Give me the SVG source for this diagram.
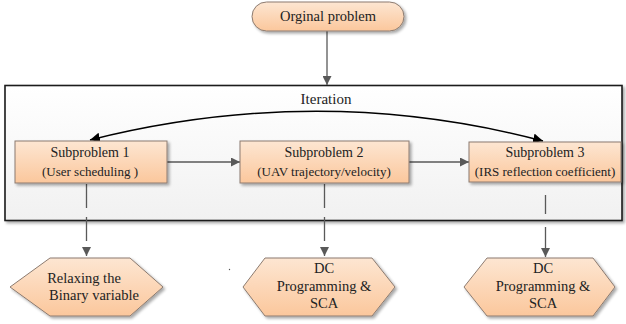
<svg xmlns="http://www.w3.org/2000/svg" width="626" height="324" viewBox="0 0 626 324" font-family="'Liberation Serif', 'Times New Roman', serif">
<defs>
<linearGradient id="peach" x1="0" y1="0" x2="0" y2="1">
<stop offset="0" stop-color="#fde6d2"/>
<stop offset="1" stop-color="#fbc79c"/>
</linearGradient>
<linearGradient id="iter" x1="0" y1="0" x2="0" y2="1">
<stop offset="0" stop-color="#ffffff"/>
<stop offset="1" stop-color="#f1f1f1"/>
</linearGradient>
<filter id="sh" x="-10%" y="-20%" width="125%" height="150%">
<feGaussianBlur in="SourceAlpha" stdDeviation="1.5"/>
<feOffset dx="2" dy="2" result="b"/>
<feComponentTransfer><feFuncA type="linear" slope="0.35"/></feComponentTransfer>
<feMerge><feMergeNode/><feMergeNode in="SourceGraphic"/></feMerge>
</filter>
<marker id="ag" viewBox="0 0 10 10" refX="10" refY="5" markerWidth="9" markerHeight="9" markerUnits="userSpaceOnUse" orient="auto">
<path d="M0,0 L10,5 L0,10 z" fill="#595959"/>
</marker>
<marker id="ak" viewBox="0 0 10 10" refX="10" refY="5" markerWidth="10" markerHeight="10" markerUnits="userSpaceOnUse" orient="auto-start-reverse">
<path d="M0,0 L10,5 L0,10 z" fill="#000"/>
</marker>
</defs>
<style>
.node{fill:url(#peach);stroke:#8c7b70;stroke-width:1;filter:url(#sh)}
text{font-family:'Liberation Serif','Times New Roman',serif;fill:#222;text-anchor:middle}
.t{font-size:14.5px}
.s{font-size:13px}
.c{stroke:#595959;stroke-width:1.3;fill:none}
.d{stroke:#595959;stroke-width:1.3;fill:none;stroke-dasharray:24 9}
</style>

<g id="iteration">
<rect x="5" y="85.5" width="617" height="135" fill="url(#iter)" stroke="#1a1a1a" stroke-width="1.6" filter="url(#sh)"/>
<text x="326" y="104" style="font-size:15px">Iteration</text>
</g>

<g id="connectors">
<line class="c" x1="327" y1="31" x2="327" y2="85" marker-end="url(#ag)"/>
<line class="c" x1="167" y1="162" x2="240" y2="162" marker-end="url(#ag)"/>
<line class="c" x1="409" y1="162" x2="469" y2="162" marker-end="url(#ag)"/>
<path d="M 90 140 Q 320 82 543 141" stroke="#000" stroke-width="1.5" fill="none" marker-start="url(#ak)" marker-end="url(#ak)"/>
<line class="d" x1="86.5" y1="184" x2="86.5" y2="256" marker-end="url(#ag)"/>
<line class="d" x1="324.5" y1="184" x2="324.5" y2="256" marker-end="url(#ag)"/>
<line class="d" x1="545.5" y1="195" x2="545.5" y2="257" marker-end="url(#ag)" style="stroke-dasharray:19 13 40"/>
</g>

<g id="original">
<rect class="node" x="252" y="2" width="152" height="29" rx="14.5"/>
<text class="t" x="328" y="21">Orginal problem</text>
</g>

<g id="sub1">
<rect class="node" x="15" y="141" width="152" height="42"/>
<text x="90" y="157" style="font-size:14px">Subproblem 1</text>
<text class="s" x="90" y="176">(User scheduling )</text>
</g>

<g id="sub2">
<rect class="node" x="240" y="141" width="169" height="42"/>
<text x="324" y="157" style="font-size:14px">Subproblem 2</text>
<text class="s" x="324" y="176">(UAV trajectory/velocity)</text>
</g>

<g id="sub3">
<rect class="node" x="469" y="142" width="152" height="40"/>
<text x="545" y="157" style="font-size:14px">Subproblem 3</text>
<text class="s" x="545" y="176">(IRS reflection coefficient)</text>
</g>

<g id="hex1">
<polygon class="node" points="10,287 50,258 130,258 163,287 130,316 50,316"/>
<text class="t" x="84" y="283">Relaxing the</text>
<text class="t" x="94" y="300">Binary variable</text>
</g>

<g id="hex2">
<polygon class="node" points="243,287 265,258 372,258 395,287 372,316 265,316"/>
<text class="t" x="324" y="273">DC</text>
<text class="t" x="324" y="291">Programming &amp;</text>
<text class="t" x="324" y="308">SCA</text>
</g>

<g id="hex3">
<polygon class="node" points="464,287 487,258 593,258 615,287 593,316 487,316"/>
<text class="t" x="543" y="273">DC</text>
<text class="t" x="543" y="291">Programming &amp;</text>
<text class="t" x="543" y="308">SCA</text>
</g>

<circle cx="229.5" cy="269.5" r="0.7" fill="#555"/>
</svg>
